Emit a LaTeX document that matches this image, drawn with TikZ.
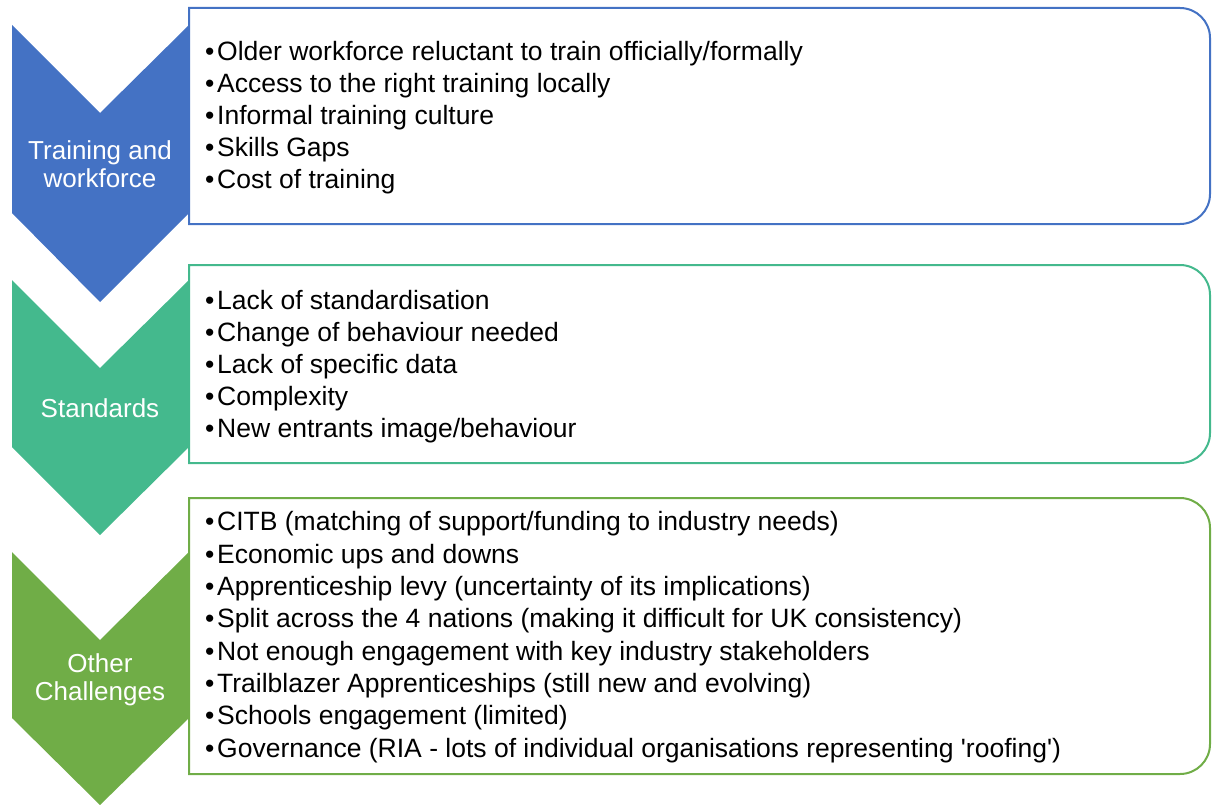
\documentclass[tikz,border=0pt]{standalone}
\usepackage{fontspec}
\setmainfont{Liberation Sans}
\usepackage{tikz}
\usetikzlibrary{positioning}

\definecolor{trainblue}{HTML}{4472C4}
\definecolor{stdteal}{HTML}{44B98D}
\definecolor{othergreen}{HTML}{70AD47}

\newcommand{\bitem}{\makebox[12pt][l]{\textbullet}}

\begin{document}
\begin{tikzpicture}
[x=1pt,y=-1pt,
 chevron/.style={fill=#1,draw=none},
 chevlabel/.style={text=white,align=center,font=\fontsize{26}{28}\selectfont},
 listbox/.style={draw=#1,line width=2pt,fill=white},
 listtext/.style={anchor=base west,align=left,inner sep=0pt,font=\fontsize{26.5}{32}\selectfont}]

\useasboundingbox (0,0) rectangle (1212,805);

% first group: training and workforce (lists are placed by their last baseline)
\fill [chevron=trainblue] (12,25) -- (100,113) -- (189,25) -- (189,213)
	-- (100,302) -- (12,213) -- cycle;
\draw [listbox=trainblue] (189,8) -- (1180,8) arc[start angle=-90,end angle=0,radius=30]
	-- (1210,194) arc[start angle=0,end angle=90,radius=30] -- (189,224) -- cycle;
\node (train) [chevlabel] at (100,164) {Training and\\workforce};
\node (trainlist) [listtext] at (205,189) {\bitem Older workforce reluctant to train officially/formally\\
	\bitem Access to the right training locally\\
	\bitem Informal training culture\\
	\bitem Skills Gaps\\
	\bitem Cost of training};

% second group: standards
\fill [chevron=stdteal] (12,280) -- (100,368) -- (189,280) -- (189,447)
	-- (100,535) -- (12,447) -- cycle;
\draw [listbox=stdteal] (189,265) -- (1180,265) arc[start angle=-90,end angle=0,radius=30]
	-- (1210,433) arc[start angle=0,end angle=90,radius=30] -- (189,463) -- cycle;
\node (std) [chevlabel] at (100,408) {Standards};
\node (stdlist) [listtext] at (205,437) {\bitem Lack of standardisation\\
	\bitem Change of behaviour needed\\
	\bitem Lack of specific data\\
	\bitem Complexity\\
	\bitem New entrants image/behaviour};

% third group: other challenges
\fill [chevron=othergreen] (12,552) -- (100,640) -- (189,552) -- (189,718)
	-- (100,805) -- (12,718) -- cycle;
\draw [listbox=othergreen] (189,498) -- (1180,498) arc[start angle=-90,end angle=0,radius=30]
	-- (1210,744) arc[start angle=0,end angle=90,radius=30] -- (189,774) -- cycle;
\node (other) [chevlabel] at (100,680) {Other\\Challenges};
\node (otherlist) [listtext,font=\fontsize{26.5}{32.3}\selectfont] at (205,757)
	{\bitem CITB (matching of support/funding to industry needs)\\
	\bitem Economic ups and downs\\
	\bitem Apprenticeship levy (uncertainty of its implications)\\
	\bitem Split across the 4 nations (making it difficult for UK consistency)\\
	\bitem Not enough engagement with key industry stakeholders\\
	\bitem Trailblazer Apprenticeships (still new and evolving)\\
	\bitem Schools engagement (limited)\\
	\bitem Governance (RIA - lots of individual organisations representing \textquotesingle roofing\textquotesingle)};
\end{tikzpicture}
\end{document}
